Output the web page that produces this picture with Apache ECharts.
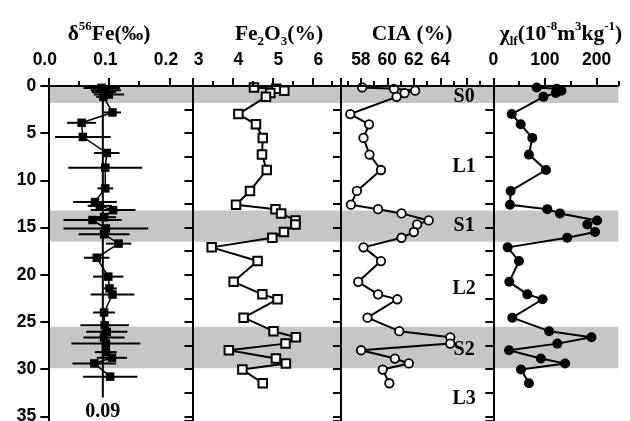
<!DOCTYPE html>
<html><head><meta charset="utf-8">
<script src="https://cdn.jsdelivr.net/npm/echarts@6/dist/echarts.min.js"></script>
<style>html,body{margin:0;padding:0;background:#fff}#c{width:630px;height:421px}</style>
</head><body><div id="c"></div>
<script>
// ---- data ----
const depths = [0.15, 0.3, 0.5, 0.75, 1.15, 2.97, 4.06, 5.5, 7.27, 8.9, 11.12, 12.58, 13.05, 13.5, 14.25, 14.67, 15.47, 16.08, 17.1, 18.55, 20.75, 22.08, 22.6, 24.55, 25.98, 26.63, 27.3, 28.0, 28.88, 29.4, 30.05, 31.5];
const fe2o3 = [4.54, 5.1, 5.3, 4.95, 4.84, 4.15, 4.59, 4.76, 4.74, 4.86, 4.44, 4.09, 5.08, 5.22, 5.58, 5.58, 5.29, 5.0, 3.48, 4.63, 4.03, 4.75, 5.13, 4.28, 5.03, 5.59, 5.33, 3.91, 5.09, 5.34, 4.25, 4.76];
const cia = [58.1, 60.5, 62.1, 61.3, 60.7, 57.2, 58.62, 58.2, 58.65, 59.52, 57.7, 57.25, 59.3, 61.07, 63.12, 62.25, 62.0, 61.07, 58.2, 59.52, 57.8, 59.3, 60.75, 58.5, 60.9, 64.75, 64.75, 58.02, 60.57, 61.62, 59.65, 60.15];
const chi = [84, 123, 132, 121, 97, 35.6, 53, 75.5, 69, 102, 33.6, 32.3, 104.5, 129, 201, 182, 197, 143, 27.8, 49.7, 31, 65.8, 95.5, 36.8, 108, 190, 124, 30.4, 92, 139, 53.6, 69];

const feDepths = [0.2, 0.45, 0.65, 0.9, 1.15, 2.8, 3.9, 5.4, 7.1, 8.65, 10.85, 12.3, 12.7, 13.15, 13.9, 14.2, 15.1, 15.7, 16.7, 18.2, 20.2, 21.45, 22.1, 24.0, 25.35, 26.05, 26.65, 27.3, 28.2, 28.8, 29.4, 30.8];
const d56Fe = [0.088, 0.095, 0.092, 0.1, 0.091, 0.106, 0.055, 0.057, 0.0965, 0.094, 0.094, 0.077, 0.085, 0.107, 0.092, 0.073, 0.095, 0.092, 0.116, 0.080, 0.099, 0.101, 0.106, 0.092, 0.093, 0.0965, 0.092, 0.095, 0.095, 0.105, 0.076, 0.102];
const d56FeErr = [0.03, 0.025, 0.02, 0.025, 0.012, 0.014, 0.024, 0.046, 0.021, 0.061, 0.013, 0.036, 0.02, 0.037, 0.02, 0.048, 0.07, 0.042, 0.021, 0.021, 0.025, 0.012, 0.036, 0.018, 0.04, 0.034, 0.034, 0.057, 0.018, 0.025, 0.036, 0.045];
const meanD56Fe = 0.09;
const meanLineDepths = [0, 33];

const bands = [[0, 1.8], [13.2, 16.5], [25.5, 29.9]];
const unitNames = ['S0', 'L1', 'S1', 'L2', 'S2', 'L3'];
const unitDepths = [1.1, 8.6, 14.8, 21.5, 28.0, 33.2];
const unitCia = 65.8;

// ---- layout ----
const TOP = 86, DMAX = 35.5, H = 335;
const edges = [48.3, 192.5, 341, 493.3, 618.3];
const SANS = 'Liberation Sans', SERIF = 'Liberation Serif';

const grids = [];
for (let i = 0; i < 4; i++) grids.push({left: edges[i], top: TOP, width: edges[i+1]-edges[i], height: H, containLabel: false, outerBoundsMode: 'none'});
grids.push({left: edges[0], top: TOP, width: edges[4]-edges[0], height: H, containLabel: false, outerBoundsMode: 'none'});

const xCfg = [
  {min: 0, max: 0.238, major: 0.1, minor: 0.05, fmt: v => (Math.abs(v*10 - Math.round(v*10)) < 1e-6 ? v.toFixed(1) : ''), pad: [0, 7, 0, 0]},
  {min: 3, max: 6.72, major: 1, minor: 0.5, fmt: v => (Number.isInteger(v) ? String(v) : ''), pad: [0, 0, 0, 12]},
  {min: 56.5, max: 68, major: null, minor: null, fmt: v => ([58, 60, 62, 64].includes(v) ? String(v) : ''), pad: 0},
  {min: 0, max: 242, major: 100, minor: 50, fmt: v => ([0, 100, 200].includes(v) ? String(v) : ''), pad: 0}
];
const xAxes = [];
xCfg.forEach((c, i) => {
  const major = {type: 'value', gridIndex: i, position: 'top', min: c.min, max: c.max, z: 10,
    splitLine: {show: false},
    axisLine: {show: true, lineStyle: {color: '#000', width: 2}},
    axisTick: {show: true, length: 8, lineStyle: {color: '#000', width: 2}},
    axisLabel: {show: true, margin: 17, color: '#000', fontFamily: SANS, fontWeight: 'bold', fontSize: 17.5, formatter: c.fmt, padding: c.pad, showMinLabel: true, showMaxLabel: false}};
  const minor = {type: 'value', gridIndex: i, position: 'top', min: c.min, max: c.max, z: 10,
    splitLine: {show: false}, axisLine: {show: false},
    axisTick: {show: true, length: 5, lineStyle: {color: '#000', width: 2}},
    axisLabel: {show: false}};
  if (c.major) { major.interval = c.major; minor.interval = c.minor; }
  else { major.splitNumber = 5; minor.splitNumber = 12; }
  xAxes.push(major);
  xAxes.push(minor);
});
xAxes.push({type: 'value', gridIndex: 4, min: 0, max: 1, show: false});
const BGX = xAxes.length - 1;

const yAxes = [];
for (let i = 0; i < 4; i++) {
  yAxes.push({type: 'value', gridIndex: i, inverse: true, min: 0, max: DMAX, interval: i === 0 ? 5 : 2.5, z: 10,
    splitLine: {show: false},
    axisLine: {show: true, lineStyle: {color: '#000', width: 2}},
    axisTick: {show: true, length: 8, lineStyle: {color: '#000', width: 2}},
    axisLabel: {show: i === 0, margin: 12, color: '#000', fontFamily: SANS, fontWeight: 'bold', fontSize: 17.5, showMaxLabel: false,
      formatter: v => (Number.isInteger(v) ? String(v) : '')}});
}
yAxes.push({type: 'value', gridIndex: 3, position: 'right', inverse: true, min: 0, max: DMAX, z: 10,
  splitLine: {show: false}, axisLine: {show: true, lineStyle: {color: '#000', width: 2}},
  axisTick: {show: false}, axisLabel: {show: false}});
yAxes.push({type: 'value', gridIndex: 4, inverse: true, min: 0, max: DMAX, show: false});
const BGY = yAxes.length - 1;

const mk = (xs, ys) => ys.map((d, i) => [xs[i], d]);
const txt = {color: '#000', fontFamily: SERIF, fontWeight: 'bold', fontSize: 20, opacity: 1, textBorderWidth: 0};

const series = [
  {type: 'line', xAxisIndex: BGX, yAxisIndex: BGY, data: [[0, 0]], symbol: 'none', lineStyle: {opacity: 0}, z: 1, silent: true,
    markArea: {silent: true, itemStyle: {color: '#c6c6c6'}, data: bands.map(b => [{yAxis: b[0]}, {yAxis: b[1]}])}},
  {type: 'line', xAxisIndex: 0, yAxisIndex: 0, data: meanLineDepths.map(d => [meanD56Fe, d]), symbol: 'none', lineStyle: {color: '#000', width: 2}, z: 3},
  {type: 'scatter', xAxisIndex: 0, yAxisIndex: 0, data: [[meanD56Fe, meanLineDepths[1]]], symbolSize: 0, z: 5,
    itemStyle: {opacity: 1, color: '#000'},
    label: Object.assign({show: true, position: 'bottom', distance: 4, formatter: meanD56Fe.toFixed(2)}, txt)},
  {type: 'custom', xAxisIndex: 0, yAxisIndex: 0, z: 4, encode: {x: 0, y: 1},
    data: feDepths.map((d, i) => [d56Fe[i], d, d56FeErr[i]]),
    renderItem: (params, api) => {
      const v = api.value(0), d = api.value(1), e = api.value(2);
      const p1 = api.coord([v - e, d]), p2 = api.coord([v + e, d]);
      return {type: 'line', shape: {x1: p1[0], y1: p1[1], x2: p2[0], y2: p2[1]}, style: {stroke: '#000', lineWidth: 2}};
    }},
  {type: 'line', xAxisIndex: 0, yAxisIndex: 0, data: mk(d56Fe, feDepths), symbol: 'rect', symbolSize: 8.5, z: 5,
    itemStyle: {color: '#000'}, lineStyle: {color: '#000', width: 1.5}},
  {type: 'line', xAxisIndex: 2, yAxisIndex: 1, data: mk(fe2o3, depths), symbol: 'rect', symbolSize: 8.5, z: 5,
    itemStyle: {color: '#fff', borderColor: '#000', borderWidth: 2}, lineStyle: {color: '#000', width: 2}},
  {type: 'line', xAxisIndex: 4, yAxisIndex: 2, data: mk(cia, depths), symbol: 'circle', symbolSize: 8.5, z: 5,
    itemStyle: {color: '#fff', borderColor: '#000', borderWidth: 1.8}, lineStyle: {color: '#000', width: 2}},
  {type: 'line', xAxisIndex: 6, yAxisIndex: 3, data: mk(chi, depths), symbol: 'circle', symbolSize: 10, z: 5,
    itemStyle: {color: '#000'}, lineStyle: {color: '#000', width: 2}},
  {type: 'scatter', xAxisIndex: 4, yAxisIndex: 2, data: unitNames.map((n, i) => ({name: n, value: [unitCia, unitDepths[i]]})), symbolSize: 0, z: 6,
    itemStyle: {opacity: 1, color: '#000'},
    label: Object.assign({show: true, position: 'inside', formatter: p => p.name}, txt)}
];

const base = {fontFamily: SERIF, fontWeight: 'bold', fontSize: 21.5, color: '#000', lineHeight: 28};
const small = {fontFamily: SERIF, fontWeight: 'bold', fontSize: 13, color: '#000', lineHeight: 14};
const rich = {a: base, sup: Object.assign({}, small, {verticalAlign: 'top'}), sub: Object.assign({}, small, {verticalAlign: 'bottom'})};
const mkTitle = (text, x) => ({text, left: x, top: 15, textAlign: 'center', textStyle: {rich}});

const chart = echarts.init(document.getElementById('c'), null, {renderer: 'canvas'});
chart.setOption({
  animation: false,
  backgroundColor: '#fff',
  title: [
    mkTitle('{a|δ}{sup|56}{a|Fe(‰)}', 104),
    mkTitle('{a|Fe}{sub|2}{a|O}{sub|3}{a|(%)}', 274),
    mkTitle('{a|CIA (%)}', 407),
    mkTitle('{a|χ}{sub|lf}{a|(10}{sup|-8}{a|m}{sup|3}{a|kg}{sup|-1}{a|)}', 556)
  ],
  grid: grids,
  xAxis: xAxes,
  yAxis: yAxes,
  series
});
</script></body></html>
